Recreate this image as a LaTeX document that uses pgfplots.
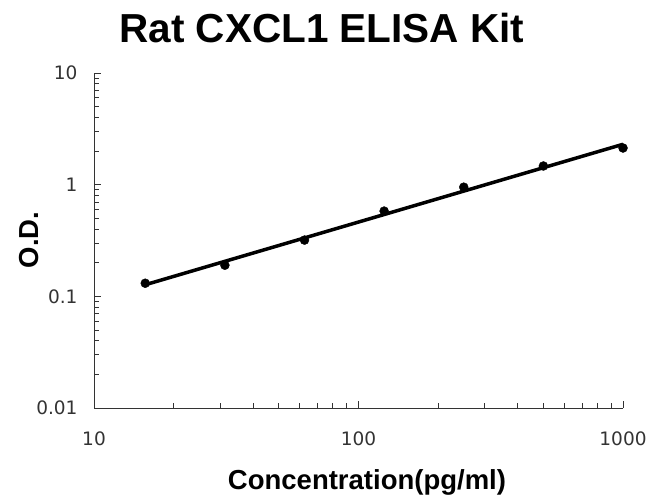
\documentclass[border=0pt]{standalone}
\usepackage{fontspec}
\setmainfont{Liberation Sans}
\newfontfamily\tickfont{DejaVu Sans}
\usepackage{pgfplots}
\pgfplotsset{compat=1.18}
\definecolor{axgray}{HTML}{333333}
\begin{document}
\begin{tikzpicture}
\path[use as bounding box] (0,0) rectangle (647pt,499pt);
\begin{axis}[
    at={(94pt,91pt)}, anchor=south west,
    scale only axis,
    width=529pt, height=335pt,
    xmode=log, ymode=log,
    xmin=10, xmax=1000, ymin=0.01, ymax=10,
    axis lines=left,
    axis line style={-, axgray, line width=1pt},
    tick align=inside,
    major tick length=7pt, minor tick length=5pt,
    every tick/.style={axgray, line width=0.8pt},
    xtick={10,100,1000}, xticklabels={10,100,1000},
    ytick={0.01,0.1,1,10}, yticklabels={0.01,0.1,1,10},
    tick label style={font=\tickfont\fontsize{18.5}{21}\selectfont, text=axgray},
    xticklabel style={yshift=-20pt},
    yticklabel style={xshift=-13pt},
    clip=false,
]
  % fitted line
  \addplot[black, line width=3.5pt, no marks] coordinates {(15.625,0.127) (1000,2.30)};
  % standards
  \addplot[only marks, mark=*, mark size=4.5pt, black] coordinates {
    (15.625,0.131) (31.25,0.190) (62.5,0.319) (125,0.580)
    (250,0.950) (500,1.47) (1000,2.13)
  };
\end{axis}
\node[anchor=base, font=\bfseries\fontsize{40.5}{46}\selectfont] at (322pt,456pt) {Rat CXCL1 ELISA Kit};
\node[anchor=base, font=\bfseries\fontsize{27.5}{32}\selectfont] at (367pt,10pt) {Concentration(pg/ml)};
\node[anchor=base, rotate=90, font=\bfseries\fontsize{27.5}{32}\selectfont] at (38pt,259pt) {O.D.};
\end{tikzpicture}
\end{document}
